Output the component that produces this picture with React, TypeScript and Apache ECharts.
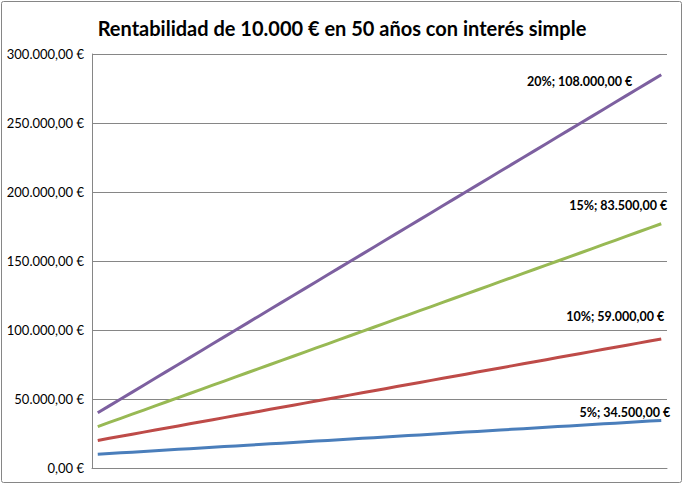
import React, { useEffect, useRef } from "react";
import * as echarts from "echarts";

const TITLE = "Rentabilidad de 10.000 € en 50 años con interés simple";

const years = [
  "1", "2", "3", "4", "5", "6", "7", "8", "9", "10",
  "11", "12", "13", "14", "15", "16", "17", "18", "19", "20",
  "21", "22", "23", "24", "25", "26", "27", "28", "29", "30",
  "31", "32", "33", "34", "35", "36", "37", "38", "39", "40",
  "41", "42", "43", "44", "45", "46", "47", "48", "49", "50",
];

const seriesNames = ["5%", "10%", "15%", "20%"];

const rate5 = [
  10000, 10500, 11000, 11500, 12000, 12500, 13000, 13500, 14000, 14500,
  15000, 15500, 16000, 16500, 17000, 17500, 18000, 18500, 19000, 19500,
  20000, 20500, 21000, 21500, 22000, 22500, 23000, 23500, 24000, 24500,
  25000, 25500, 26000, 26500, 27000, 27500, 28000, 28500, 29000, 29500,
  30000, 30500, 31000, 31500, 32000, 32500, 33000, 33500, 34000, 34500,
];

const rate10 = [
  10000, 11000, 12000, 13000, 14000, 15000, 16000, 17000, 18000, 19000,
  20000, 21000, 22000, 23000, 24000, 25000, 26000, 27000, 28000, 29000,
  30000, 31000, 32000, 33000, 34000, 35000, 36000, 37000, 38000, 39000,
  40000, 41000, 42000, 43000, 44000, 45000, 46000, 47000, 48000, 49000,
  50000, 51000, 52000, 53000, 54000, 55000, 56000, 57000, 58000, 59000,
];

const rate15 = [
  10000, 11500, 13000, 14500, 16000, 17500, 19000, 20500, 22000, 23500,
  25000, 26500, 28000, 29500, 31000, 32500, 34000, 35500, 37000, 38500,
  40000, 41500, 43000, 44500, 46000, 47500, 49000, 50500, 52000, 53500,
  55000, 56500, 58000, 59500, 61000, 62500, 64000, 65500, 67000, 68500,
  70000, 71500, 73000, 74500, 76000, 77500, 79000, 80500, 82000, 83500,
];

const rate20 = [
  10000, 12000, 14000, 16000, 18000, 20000, 22000, 24000, 26000, 28000,
  30000, 32000, 34000, 36000, 38000, 40000, 42000, 44000, 46000, 48000,
  50000, 52000, 54000, 56000, 58000, 60000, 62000, 64000, 66000, 68000,
  70000, 72000, 74000, 76000, 78000, 80000, 82000, 84000, 86000, 88000,
  90000, 92000, 94000, 96000, 98000, 100000, 102000, 104000, 106000, 108000,
];

const seriesData = [rate5, rate10, rate15, rate20];
const colors = ["#4A7EBB", "#BE4B48", "#98B954", "#7D60A0"];
const labelOffsets = [
  [9, -8],
  [3, -22],
  [6, -18],
  [-29, 7],
];

function fmtEuro(v: number): string {
  const fixed = Math.abs(v).toFixed(2);
  const [intPart, dec] = fixed.split(".");
  const withDots = intPart.replace(/\B(?=(\d{3})+(?!\d))/g, ".");
  return (v < 0 ? "-" : "") + withDots + "," + dec + " €";
}

const FONT = "Lato, 'Open Sans', sans-serif";

export default function App() {
  const ref = useRef<HTMLDivElement>(null);

  useEffect(() => {
    if (!ref.current) return;
    const chart = echarts.init(ref.current, null, { renderer: "svg" });
    const series = seriesData.map((arr, si) => ({
      name: seriesNames[si],
      type: "line",
      stack: "total",
      symbol: "circle",
      symbolSize: 0,
      showSymbol: true,
      showAllSymbol: true,
      lineStyle: { color: colors[si], width: 3 },
      itemStyle: { color: colors[si] },
      label: { show: false },
      data: arr.map((v, i) =>
        i === arr.length - 1
          ? {
              value: v,
              label: {
                show: true,
                position: "top",
                distance: 0,
                align: "right",
                verticalAlign: "middle",
                offset: labelOffsets[si],
                formatter: () => `${seriesNames[si]}; ${fmtEuro(v)}`,
                fontFamily: FONT,
                fontWeight: "bold",
                fontSize: 12.5,
                color: "#000",
              },
            }
          : v
      ),
    }));

    chart.setOption({
      animation: false,
      backgroundColor: "#fff",
      title: {
        text: TITLE,
        left: "center",
        top: 13,
        textStyle: {
          fontFamily: FONT,
          fontWeight: "bold",
          fontSize: 20,
          color: "#000",
        },
      },
      graphic: [
        {
          type: "rect",
          shape: { x: 1.5, y: 1.5, width: 680, height: 481, r: 2 },
          style: { fill: "none", stroke: "#868686", lineWidth: 1 },
          silent: true,
        },
      ],
      grid: { left: 92, right: 17, top: 54, bottom: 17, containLabel: false },
      xAxis: {
        type: "category",
        data: years,
        boundaryGap: true,
        axisLine: { show: true, lineStyle: { color: "#868686", width: 1 } },
        axisTick: { show: false },
        axisLabel: { show: false },
        splitLine: { show: false },
      },
      yAxis: {
        type: "value",
        min: 0,
        max: 300000,
        interval: 50000,
        axisLine: { show: true, lineStyle: { color: "#868686", width: 1 } },
        axisTick: { show: false },
        splitLine: { show: true, lineStyle: { color: "#868686", width: 1 } },
        axisLabel: {
          formatter: (v: number) => fmtEuro(v),
          fontFamily: FONT,
          fontSize: 13,
          color: "#000",
          margin: 8,
        },
      },
      series,
    });
    return () => chart.dispose();
  }, []);

  return (
    <div
      ref={ref}
      style={{ position: "fixed", left: 0, top: 0, width: 684, height: 485 }}
    />
  );
}
